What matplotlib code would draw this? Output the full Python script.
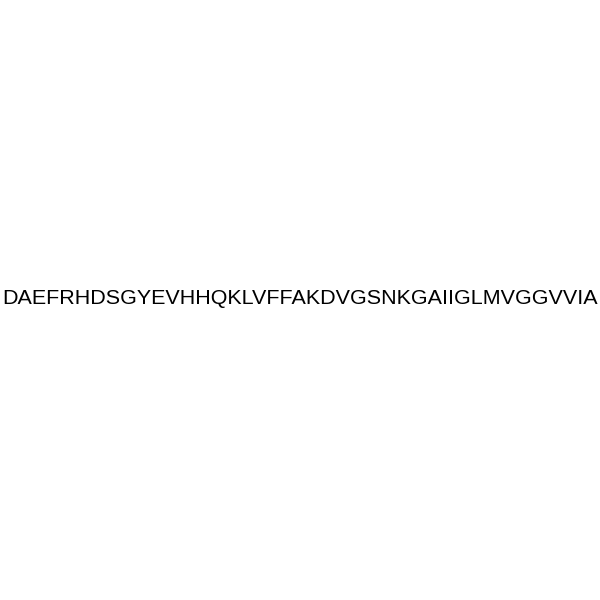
import matplotlib.pyplot as plt

# Peptide sequence shown in the picture
sequence = 'DAEFRHDSGYEVHHQKLVFFAKDVGSNKGAIIGLMVGGVVIA'

fig = plt.figure(figsize=(6, 6), dpi=100)
fig.text(0.5, 0.503, sequence, ha='center', va='center',
         fontsize=15.45, family='Liberation Sans', color='black')
fig.savefig('out.png', dpi=100, facecolor='white')
